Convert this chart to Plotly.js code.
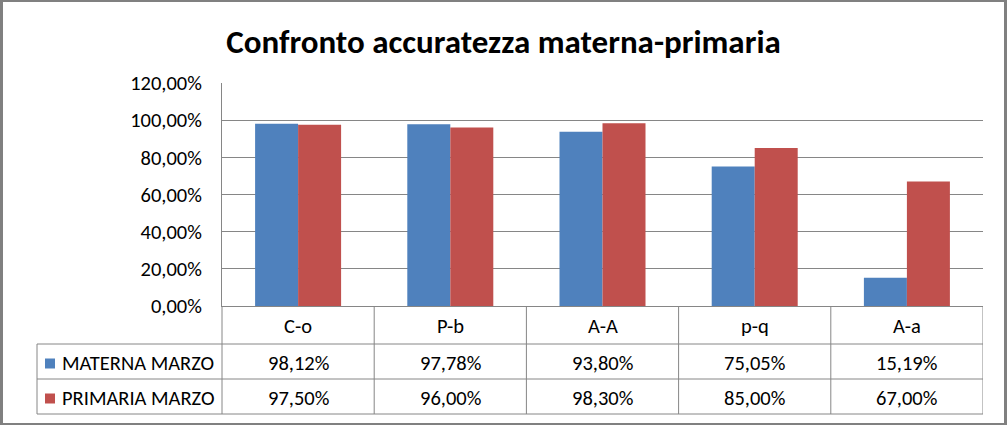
<!DOCTYPE html>
<html>
<head>
<meta charset="utf-8">
<script src="https://cdn.plot.ly/plotly-3.0.1.min.js"></script>
<style>
  html, body { margin: 0; padding: 0; background: #fff; }
  #wrap { position: relative; width: 1007px; height: 425px; }
  #chart { position: absolute; left: 0; top: 0; width: 1007px; height: 425px; }
  #frame { position: absolute; left: 0; top: 0; width: 1007px; height: 425px; box-sizing: border-box;
           border-style: solid; border-color: #808080; border-width: 2px 3px 2px 3px; pointer-events: none; }
</style>
</head>
<body>
<div id="wrap"><div id="chart"></div><div id="frame"></div></div>
<script>
// ---- data ----
const categories = ["C-o", "P-b", "A-A", "p-q", "A-a"];
const seriesNames = ["MATERNA MARZO", "PRIMARIA MARZO"];
const materna = [98.12, 97.78, 93.80, 75.05, 15.19];
const primaria = [97.50, 96.00, 98.30, 85.00, 67.00];
const yTicks = [0, 20, 40, 60, 80, 100, 120];

// ---- styling / layout ----
const colors = ["#4F81BD", "#C0504D"];
const FONT = "Calibri, Carlito, Lato, sans-serif";
const FS = 20.5;
const W = 1007, H = 425;
const plotL = 222, plotR = 983, plotT = 83, plotB = 306;
const plotW = plotR - plotL, plotH = plotB - plotT;
const gray = "#868686";

function px(x) { return (x - plotL) / plotW; }
function py(y) { return (plotB - y) / plotH; }
function fmt(v) { return v.toFixed(2).replace('.', ',') + '%'; }

const traces = [
  { type: 'bar', name: seriesNames[0], x: categories, y: materna, marker: { color: colors[0] }, hoverinfo: 'none' },
  { type: 'bar', name: seriesNames[1], x: categories, y: primaria, marker: { color: colors[1] }, hoverinfo: 'none' }
];

const shapes = [];
const annotations = [];
function hline(x0, x1, y) {
  shapes.push({ type: 'line', xref: 'paper', yref: 'paper', x0: px(x0), x1: px(x1), y0: py(y), y1: py(y),
                line: { color: gray, width: 1 } });
}
function vlineX(xcat, y0, y1) {
  shapes.push({ type: 'line', xref: 'x', yref: 'paper', x0: xcat, x1: xcat, y0: py(y0), y1: py(y1),
                line: { color: gray, width: 1 } });
}
function vlineP(x, y0, y1) {
  shapes.push({ type: 'line', xref: 'paper', yref: 'paper', x0: px(x), x1: px(x), y0: py(y0), y1: py(y1),
                line: { color: gray, width: 1 } });
}

const tableLeft = 37, rowTop = 344, rowMid = 379, rowBot = 414;
hline(tableLeft, plotR, rowTop);
hline(tableLeft, plotR, rowMid);
hline(tableLeft, plotR, rowBot);
vlineP(tableLeft, rowTop, rowBot);
vlineP(plotL, plotB, rowBot);
for (let i = 0; i < categories.length; i++) {
  vlineX(i + 0.5, plotB, rowBot);
}

const rowsData = [materna, primaria];
const rowCenters = [(rowTop + rowMid) / 2, (rowMid + rowBot) / 2];
categories.forEach((c, i) => {
  annotations.push({ xref: 'x', yref: 'paper', x: i, y: py((plotB + rowTop) / 2 + 1), text: c, showarrow: false,
                     xanchor: 'center', yanchor: 'middle', font: { family: FONT, size: FS, color: '#000' } });
  rowsData.forEach((arr, r) => {
    annotations.push({ xref: 'x', yref: 'paper', x: i, y: py(rowCenters[r] + 1), text: fmt(arr[i]), showarrow: false,
                       xanchor: 'center', yanchor: 'middle', font: { family: FONT, size: FS, color: '#000' } });
  });
});
seriesNames.forEach((n, r) => {
  const cy = rowCenters[r] + 2;
  shapes.push({ type: 'rect', xref: 'paper', yref: 'paper', x0: px(45), x1: px(55), y0: py(cy - 5), y1: py(cy + 5),
                fillcolor: colors[r], line: { width: 0 } });
  annotations.push({ xref: 'paper', yref: 'paper', x: px(60), y: py(rowCenters[r] + 1), text: n, showarrow: false,
                     xanchor: 'left', yanchor: 'middle', font: { family: FONT, size: FS, color: '#000' } });
});

const layout = {
  width: W, height: H,
  margin: { l: plotL, r: W - plotR, t: plotT, b: H - plotB, pad: 0 },
  paper_bgcolor: '#fff', plot_bgcolor: '#fff',
  showlegend: false,
  barmode: 'group', bargap: 0.435, bargroupgap: 0,
  title: { text: 'Confronto accuratezza materna-primaria', xref: 'container', x: 0.5, xanchor: 'center',
           yref: 'container', y: 1 - 41 / H, yanchor: 'middle',
           font: { family: FONT, size: 33, color: '#000', weight: 'bold' } },
  xaxis: { type: 'category', range: [-0.5, categories.length - 0.5], showticklabels: false, ticks: '',
           showgrid: false, zeroline: false, showline: true, linecolor: gray, linewidth: 1, fixedrange: true },
  yaxis: { range: [0, 120], tickmode: 'array', tickvals: yTicks, ticktext: yTicks.map(fmt), ticks: '',
           showgrid: true, gridcolor: gray, gridwidth: 1, zeroline: false, showline: true, linecolor: gray,
           linewidth: 1, ticklabelstandoff: 15, tickfont: { family: FONT, size: FS, color: '#000' }, fixedrange: true },
  shapes: shapes,
  annotations: annotations
};

Plotly.newPlot('chart', traces, layout, { displayModeBar: false, staticPlot: true });
</script>
</body>
</html>
